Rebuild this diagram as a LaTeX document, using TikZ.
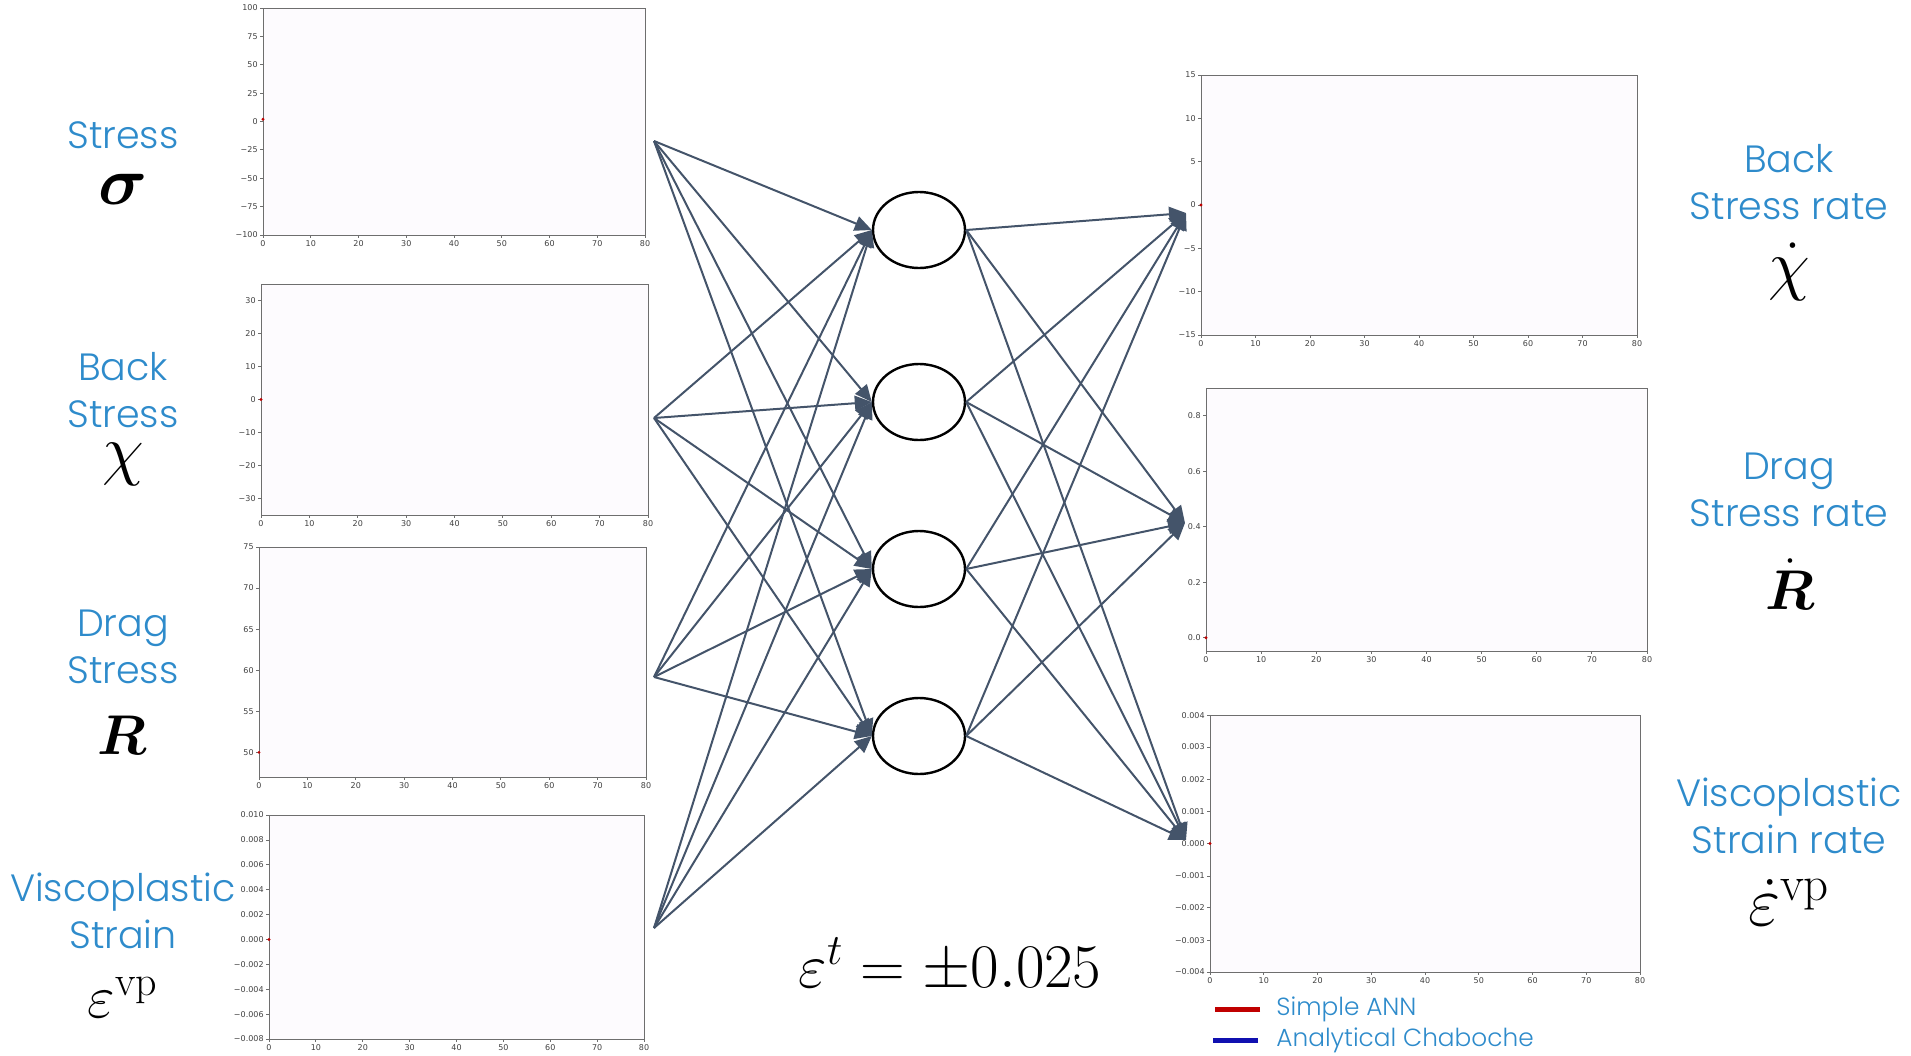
\RequirePackage{fix-cm}
\documentclass[tikz,border=0pt]{standalone}
\usepackage{amsmath}
\usepackage{fontspec}
\usetikzlibrary{arrows.meta,shapes.geometric}
\newfontfamily\labelfont{Poppins Light}
\newfontfamily\tickfont{DejaVu Sans}
\definecolor{labelblue}{HTML}{2E8BCB}
\definecolor{wire}{HTML}{44546A}
\definecolor{plotbg}{HTML}{FDFBFE}
\definecolor{frame}{HTML}{6E6E6E}
\definecolor{annred}{HTML}{C00000}
\definecolor{chabblue}{HTML}{1010B0}

% empty matplotlib-like axes: name, left, top, right, bottom, ymin, ymax, ticks, start value
\newcommand{\axesframe}[9]{%
  \node[axesbox,anchor=north west,minimum width={(#4-#2)*.5pt},
    minimum height={(#5-#3)*.5pt}] (#1) at (#2,#3) {};
  \foreach \v/\l in {#8}{%
    \pgfmathsetmacro\yy{#5+((\v)-(#6))/((#7)-(#6))*((#3)-(#5))}
    \draw[tick] (#2,\yy) -- ++(-3,0) node[ticklabel,left] {\l};}
  \foreach \v in {0,10,...,80}{%
    \pgfmathsetmacro\xx{#2+\v/80*(#4-#2)}
    \draw[tick] (\xx,#5) -- ++(0,3) node[ticklabel,below] {\v};}
  \pgfmathsetmacro\yy{#5+((#9)-(#6))/((#7)-(#6))*((#3)-(#5))}
  \fill[annred] (#2,\yy) circle[radius=1.6];
}

\begin{document}
\begin{tikzpicture}[
  x=.5pt,y=-.5pt,
  quantity/.style={text=labelblue,font=\labelfont\fontsize{19}{23.75}\selectfont,
    align=center,inner sep=0pt},
  symbol/.style={font=\fontsize{30}{36}\selectfont,inner sep=0pt},
  bigsymbol/.style={symbol,font=\fontsize{34}{40}\selectfont},
  boldsymbol/.style={symbol,font=\fontsize{28}{34}\selectfont},
  neuron/.style={draw=black,line width=1.2pt,fill=white,ellipse,
    minimum width=46pt,minimum height=38pt,inner sep=0pt},
  link/.style={draw=wire,line width=1pt,-{Triangle[length=8.5pt,width=7.5pt]}},
  axesbox/.style={draw=frame,line width=.6pt,fill=plotbg,inner sep=0pt},
  tick/.style={draw=frame,line width=.4pt},
  ticklabel/.style={font=\tickfont\fontsize{4}{5}\selectfont,text=black!75,inner sep=1pt},
  legendkey/.style={line width=2.5pt},
  legendtext/.style={text=labelblue,font=\labelfont\fontsize{12.4}{15}\selectfont,
    anchor=west,inner sep=0pt}
]
\path[use as bounding box] (0,0) rectangle (1911,1055);

% input histories
\axesframe{sigplot}{263}{8}{645}{235}{-100}{100}
  {100/100,75/75,50/50,25/25,0/0,-25/−25,-50/−50,-75/−75,-100/−100}{2}
\axesframe{chiplot}{261}{284}{648}{515}{-35}{35}
  {30/30,20/20,10/10,0/0,-10/−10,-20/−20,-30/−30}{0}
\axesframe{Rplot}{259}{547}{646}{777}{47}{75}
  {75/75,70/70,65/65,60/60,55/55,50/50}{50}
\axesframe{vpplot}{269}{815}{644}{1039}{-0.008}{0.010}
  {0.010/0.010,0.008/0.008,0.006/0.006,0.004/0.004,0.002/0.002,0/0.000,
   -0.002/−0.002,-0.004/−0.004,-0.006/−0.006,-0.008/−0.008}{0}

% output histories
\axesframe{chidplot}{1201}{75}{1637}{335}{-15}{15}
  {15/15,10/10,5/5,0/0,-5/−5,-10/−10,-15/−15}{0}
\axesframe{Rdplot}{1206}{388}{1647}{651}{-0.048}{0.9}
  {0.8/0.8,0.6/0.6,0.4/0.4,0.2/0.2,0/0.0}{0}
\axesframe{vpdplot}{1210}{715}{1640}{972}{-0.004}{0.004}
  {0.004/0.004,0.003/0.003,0.002/0.002,0.001/0.001,0/0.000,
   -0.001/−0.001,-0.002/−0.002,-0.003/−0.003,-0.004/−0.004}{0}

% labels
\node[quantity] (sigtxt) at (123,135) {Stress};
\node[bigsymbol] (sigsym) at (123,189) {$\boldsymbol{\sigma}$};
\node[quantity] (chitxt) at (123,390) {Back\\Stress};
\node[bigsymbol] (chisym) at (123,464) {$\chi$};
\node[quantity] (Rtxt) at (123,647) {Drag\\Stress};
\node[boldsymbol] (Rsym) at (122,735) {$\boldsymbol{R}$};
\node[quantity] (vptxt) at (123,911) {Viscoplastic\\Strain};
\node[symbol] (vpsym) at (123,997) {$\varepsilon^{\mathrm{vp}}$};

\node[quantity] (chidtxt) at (1789,182) {Back\\Stress rate};
\node[bigsymbol] (chidsym) at (1789,272) {$\dot{\chi}$};
\node[quantity] (Rdtxt) at (1789,490) {Drag\\Stress rate};
\node[boldsymbol] (Rdsym) at (1790,584) {$\dot{\boldsymbol{R}}$};
\node[quantity] (vpdtxt) at (1789,816) {Viscoplastic\\Strain rate};
\node[symbol,font=\fontsize{35}{40}\selectfont] (vpdsym) at (1789,902)
  {$\dot{\varepsilon}^{\mathrm{vp}}$};

% network
\coordinate (in1) at (654,141);
\coordinate (in2) at (654,418);
\coordinate (in3) at (654,677);
\coordinate (in4) at (654,928);
\coordinate (out1) at (1186,213);
\coordinate (out2) at (1185,523);
\coordinate (out3) at (1186,840);

\node[neuron] (h1) at (919,230) {};
\node[neuron] (h2) at (919,402) {};
\node[neuron] (h3) at (919,569) {};
\node[neuron] (h4) at (919,736) {};

\foreach \i in {1,...,4}
  \foreach \j in {1,...,4}
    \draw[link] (in\i) -- (h\j.west);
\foreach \j in {1,...,4}
  \foreach \k in {1,2,3}
    \draw[link] (h\j.east) -- (out\k);

\node[symbol,font=\fontsize{31}{36}\selectfont] (amp) at (950,965) {$\varepsilon^t = \pm 0.025$};

% legend
\node[legendtext] (anntxt) at (1276,1009) {Simple ANN};
\node[legendtext] (chabtxt) at (1276,1040) {Analytical Chaboche};
\draw[legendkey,annred] ([xshift=-8pt]anntxt.west) -- ++(-45,0);
\draw[legendkey,chabblue] ([xshift=-9pt]chabtxt.west) -- ++(-45,0);
\end{tikzpicture}
\end{document}
